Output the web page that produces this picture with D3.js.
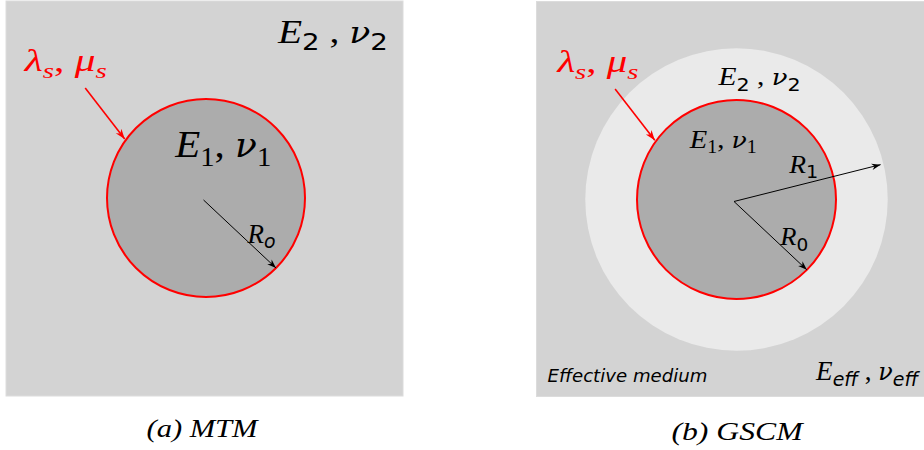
<!DOCTYPE html>
<html>
<head>
<meta charset="utf-8">
<script src="https://cdn.jsdelivr.net/npm/d3@7"></script>
<style>
  html, body { margin: 0; padding: 0; background: #fff; }
  svg { display: block; }
  .serif { font-family: "Liberation Serif", serif; }
  .greek { font-family: "DejaVu Serif", serif; }
  .sans { font-family: "DejaVu Sans", sans-serif; }
</style>
</head>
<body>
<svg id="fig" width="924" height="450"></svg>
<script>
// ---- figure data (radii are in units of R0)
const panelCaptions = ['(a) MTM', '(b) GSCM'];
const inclusionRadius = [1, 1];        // R0
const interphaseRadius = [0, 1.52];    // R1, 0 = no coating shell
const r0ArrowAngle = [45, 45];         // degrees, measured clockwise from +x
const r1ArrowAngle = [0, -13.6];
const surfaceArrowAngle = [216, 216];  // where the λs, μs pointer hits the interface

// ---- layout
const svg = d3.select('#fig');
const colors = { matrix: '#d3d3d3', inclusion: '#acacac', shell: '#eaeaea', red: '#ff0000' };
const panelBox = [
  { cx: 206, cy: 198, k: 99, x0: -2.02, x1: 1.99, y0: -1.99, y1: 2.0 },
  { cx: 736.5, cy: 199.5, k: 99.5, x0: -2.01, x1: 1.89, y0: -1.99, y1: 1.98 }
];

// arrowheads
const defs = svg.append('defs');
function marker(id, color, w, h) {
  defs.append('marker')
    .attr('id', id)
    .attr('viewBox', '-10 -5 12 10')
    .attr('refX', 0).attr('refY', 0)
    .attr('markerUnits', 'userSpaceOnUse')
    .attr('markerWidth', w).attr('markerHeight', h)
    .attr('orient', 'auto')
    .append('path')
    .attr('d', 'M0,0 L-10,-3.6 L-7,0 L-10,3.6 Z')
    .attr('fill', color);
}
marker('headK', '#000', 11, 9);
marker('headR', colors.red, 12, 10);

// math-ish label made of tspans, squeezed to the measured width
// kinds: m = serif italic, g = greek italic, n = serif upright, o = sans oblique, s = sans upright; trailing _ = subscript
function label(g, x, y, size, width, parts, fill) {
  const t = g.append('text')
    .attr('x', x).attr('y', y)
    .attr('font-size', size)
    .attr('fill', fill || '#000')
    .attr('textLength', width)
    .attr('lengthAdjust', 'spacingAndGlyphs');
  let shifted = 0;
  parts.forEach(([str, kind]) => {
    const sub = kind.endsWith('_');
    const k = kind[0];
    const want = sub ? size * 0.22 : 0;
    let fs = sub ? size * 0.7 : size;
    if (k === 'g') fs *= 0.88;
    t.append('tspan')
      .attr('dy', want - shifted)
      .attr('class', k === 'g' ? 'greek' : (k === 'm' || k === 'n') ? 'serif' : 'sans')
      .style('font-style', k === 'm' || k === 'g' || k === 'o' ? 'italic' : 'normal')
      .attr('font-size', fs)
      .text(str);
    shifted = want;
  });
  return t;
}

panelCaptions.forEach((caption, i) => {
  const b = panelBox[i];
  const x = d3.scaleLinear().domain([-1, 1]).range([b.cx - b.k, b.cx + b.k]);
  const y = d3.scaleLinear().domain([-1, 1]).range([b.cy - b.k, b.cy + b.k]);
  const r = d3.scaleLinear().domain([0, 1]).range([0, b.k]);
  const g = svg.append('g').attr('class', 'panel');

  // matrix / effective medium
  g.append('rect')
    .attr('x', x(b.x0)).attr('y', y(b.y0))
    .attr('width', x(b.x1) - x(b.x0)).attr('height', y(b.y1) - y(b.y0))
    .attr('fill', colors.matrix)
    .attr('stroke', '#dcdcdc').attr('stroke-width', 1);

  // coating shell
  if (interphaseRadius[i] > 0) {
    g.append('circle')
      .attr('cx', x(0)).attr('cy', y(0))
      .attr('r', r(interphaseRadius[i]))
      .attr('fill', colors.shell);
  }

  // inclusion with surface (red interface)
  g.append('circle')
    .attr('cx', x(0)).attr('cy', y(0))
    .attr('r', r(inclusionRadius[i]))
    .attr('fill', colors.inclusion)
    .attr('stroke', colors.red)
    .attr('stroke-width', 2);

  const polar = (rad, deg) => [x(rad * Math.cos(deg * Math.PI / 180)), y(rad * Math.sin(deg * Math.PI / 180))];

  // R0 arrow
  const [r0x, r0y] = polar(inclusionRadius[i], r0ArrowAngle[i]);
  g.append('line')
    .attr('x1', x(-0.025)).attr('y1', y(0.02))
    .attr('x2', r0x).attr('y2', r0y)
    .attr('stroke', '#000').attr('stroke-width', 1)
    .attr('marker-end', 'url(#headK)');

  // R1 arrow
  if (interphaseRadius[i] > 0) {
    const [r1x, r1y] = polar(interphaseRadius[i] - 0.03, r1ArrowAngle[i]);
    g.append('line')
      .attr('x1', x(-0.025)).attr('y1', y(0.02))
      .attr('x2', r1x).attr('y2', r1y)
      .attr('stroke', '#000').attr('stroke-width', 1)
      .attr('marker-end', 'url(#headK)');
  }

  // pointer to the interface
  const [sx, sy] = polar(inclusionRadius[i] + 0.015, surfaceArrowAngle[i]);
  g.append('line')
    .attr('x1', x(-1.22)).attr('y1', y(-1.11))
    .attr('x2', sx).attr('y2', sy)
    .attr('stroke', colors.red).attr('stroke-width', 1.6)
    .attr('marker-end', 'url(#headR)');

  label(g, x(i ? -1.80 : -1.83), y(-1.28), 31, i ? 81 : 82,
    [['λ', 'm'], ['s', 'm_'], [', ', 'n'], ['μ', 'm'], ['s', 'm_']], colors.red);

  if (i === 0) {
    label(g, x(0.727), y(-1.566), 33, 110, [['E', 'm'], ['2', 's_'], [' , ', 'n'], ['ν', 'g'], ['2', 's_']]);
    label(g, x(-0.31), y(-0.41), 38, 96, [['E', 'm'], ['1', 'n_'], [', ', 'n'], ['ν', 'g'], ['1', 'n_']]);
    label(g, x(0.42), y(0.45), 27, 28, [['R', 'm'], ['o', 'o_']]);
  } else {
    label(g, x(-0.18), y(-1.15), 26, 82, [['E', 'm'], ['2', 's_'], [' , ', 'n'], ['ν', 'g'], ['2', 's_']]);
    label(g, x(-0.47), y(-0.52), 26, 67, [['E', 'm'], ['1', 'n_'], [', ', 'n'], ['ν', 'g'], ['1', 'n_']]);
    label(g, x(0.53), y(-0.27), 26, 29, [['R', 'm'], ['1', 's_']]);
    label(g, x(0.44), y(0.46), 26, 28, [['R', 'm'], ['0', 's_']]);
    label(g, x(-1.90), y(1.83), 17, 160, [['Effective medium', 'o']]);
    label(g, x(0.80), y(1.81), 27, 102, [['E', 'm'], ['eff', 'o_'], [' , ', 'n'], ['ν', 'g'], ['eff', 'o_']]);
  }

  // caption
  svg.append('text')
    .attr('class', 'serif')
    .attr('x', x(0) + (i ? 0.5 : -4)).attr('y', i ? 440 : 437)
    .attr('text-anchor', 'middle')
    .style('font-style', 'italic')
    .attr('font-size', 26)
    .attr('textLength', i ? 131 : 111)
    .attr('lengthAdjust', 'spacingAndGlyphs')
    .text(caption);
});
</script>
</body>
</html>
